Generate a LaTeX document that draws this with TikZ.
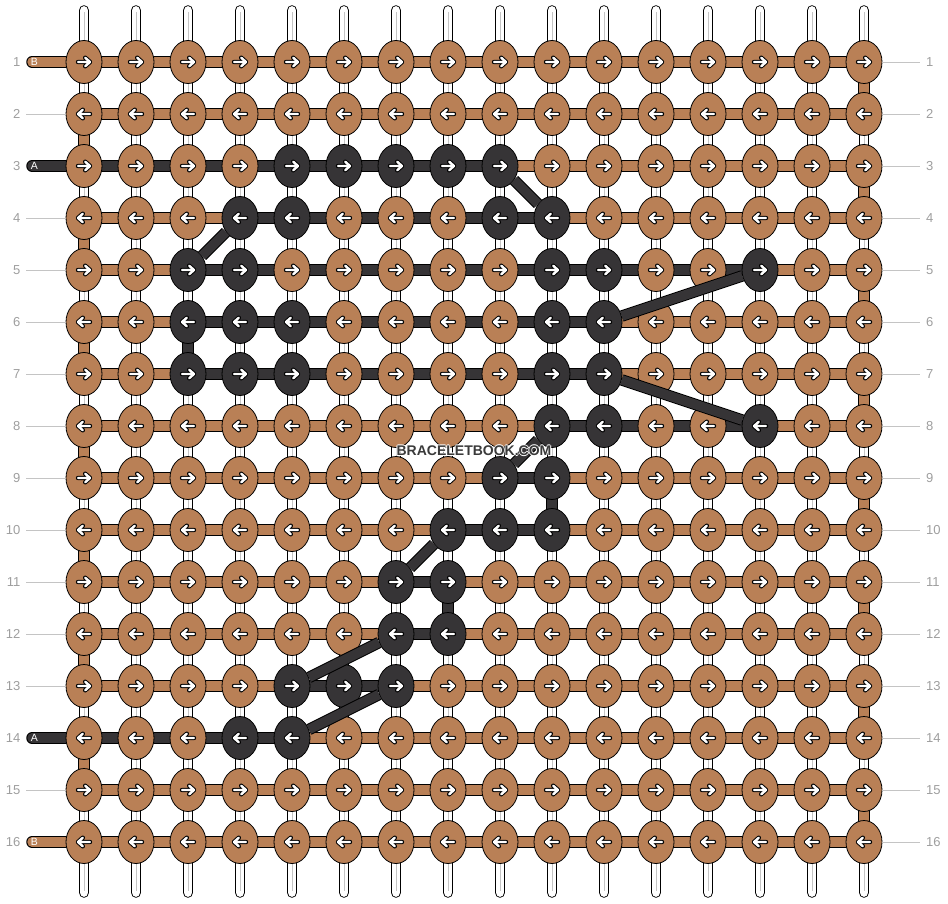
\documentclass[tikz,border=0pt]{standalone}
\usepackage{fontspec}
\setmainfont{Liberation Sans}
\usetikzlibrary{shapes.geometric}

\definecolor{brownB}{RGB}{185,128,86}
\definecolor{darkA}{RGB}{54,52,54}
\definecolor{rulegrey}{RGB}{196,196,196}
\definecolor{numgrey}{RGB}{158,158,158}
\definecolor{wmgrey}{RGB}{58,58,58}

\pgfdeclarelayer{back}
\pgfsetlayers{back,main}

\makeatletter
% \pick{list}{item}: \thr is darkA when item is in list, else brownB
\newcommand\pick[2]{\edef\tmp{\noexpand\in@{,#2,}{,#1,}}\tmp
  \ifin@\def\thr{darkA}\else\def\thr{brownB}\fi}
\makeatother

\newcommand\halotext[1]{{\color{white}\rlap{\kern-.9pt#1}\rlap{\kern.9pt#1}%
  \rlap{\raisebox{.9pt}{#1}}\rlap{\raisebox{-.9pt}{#1}}}#1}

\tikzset{
  knot/.style={ellipse, draw=black, line width=.8pt, fill=#1,
    minimum width=36pt, minimum height=43pt, inner sep=0pt},
  bar/.style={draw=black, line width=1pt, double=#1, double distance=9.5pt},
  block/.style={draw=black, line width=1pt, double=#1, double distance=9.3pt},
  tube/.style={draw=black, line width=.9pt, double=white, double distance=8.8pt, line cap=round},
  rownum/.style={text=numgrey, font=\fontsize{13}{13}\selectfont, inner ysep=0pt},
  gridline/.style={draw=rulegrey, line width=.8pt},
  endtag/.style={text=white, font=\fontsize{10.5}{10.5}\selectfont, inner sep=0pt},
  arr/.pic={
    \draw[black, line width=4.4pt, line cap=round, line join=round]
      (-6,0) -- (6,0) (1.2,-4.3) -- (6,0) -- (1.2,4.3);
    \draw[white, line width=2.4pt, line cap=round, line join=round]
      (-6,0) -- (6,0) (1.2,-4.3) -- (6,0) -- (1.2,4.3);
  },
}

\begin{document}
\begin{tikzpicture}[x=1pt, y=-1pt]
\useasboundingbox (0,0) rectangle (948,904);

% knots (lists give the dark columns of each row)
\foreach \r/\dl in {1/0, 2/0, 3/{5,6,7,8,9}, 4/{4,5,9,10}, 5/{3,4,10,11,14},
    6/{3,4,5,10,11}, 7/{3,4,5,10,11}, 8/{10,11,14}, 9/{9,10}, 10/{8,9,10},
    11/{7,8}, 12/{7,8}, 13/{5,6,7}, 14/{4,5}, 15/0, 16/0}
  \foreach \c in {1,...,16} {
    \pick{\dl}{\c}
    \node[knot=\thr] (k\r-\c) at ({32+52*\c}, {10+52*\r}) {};
    \ifodd\r \def\dir{1}\else \def\dir{-1}\fi
    \pic[xscale=\dir] at (k\r-\c) {arr};
  }

\begin{pgfonlayer}{back}
  % vertical strings
  \foreach \c in {1,...,16} {
    \coordinate (top\c) at ({32+52*\c}, 10.5);
    \coordinate (bot\c) at ({32+52*\c}, 892.5);
    \draw[tube] (top\c) -- (bot\c);
    \draw[rulegrey, line width=.6pt] ([yshift=-2pt]top\c) -- ([yshift=2pt]bot\c);
  }
  % row threads (lists give the dark gaps)
  \foreach \r/\dl in {1/0, 2/0, 3/{1,2,3,4,5,6,7,8}, 4/{4,5,6,7,8,9},
      5/{3,4,5,6,7,8,9,10,11,12,13}, 6/{3,4,5,6,7,8,9,10},
      7/{3,4,5,6,7,8,9,10}, 8/{10,11,12,13}, 9/9, 10/{8,9}, 11/7,
      12/7, 13/{5,6}, 14/{1,2,3,4}, 15/0, 16/0}
    \foreach \c in {1,...,15} {
      \pgfmathtruncatemacro\nx{\c+1}
      \pick{\dl}{\c}
      \draw[bar=\thr] (k\r-\c.center) -- (k\r-\nx.center);
    }
  % turns at the edges
  \foreach \r in {2,4,...,14} {
    \pgfmathtruncatemacro\nx{\r+1}
    \draw[block=brownB] (k\r-1.center) -- (k\nx-1.center);
  }
  \foreach \r in {1,3,...,15} {
    \pgfmathtruncatemacro\nx{\r+1}
    \draw[block=brownB] (k\r-16.center) -- (k\nx-16.center);
  }
  \draw[block=darkA] (k6-3.center) -- (k7-3.center);
  \draw[block=darkA] (k9-10.center) -- (k10-10.center);
  \draw[block=darkA] (k11-8.center) -- (k12-8.center);
  % loose thread ends
  \foreach \r/\thr in {1/brownB, 3/darkA, 14/darkA, 16/brownB} {
    \coordinate (end\r) at (32, {10+52*\r});
    \draw[bar=\thr, line cap=round] (end\r) -- (k\r-1.center);
  }
\end{pgfonlayer}

\foreach \r/\lab in {1/B, 3/A, 14/A, 16/B}
  \node[endtag] (tag\r) at (34.5, {10+52*\r}) {\lab};

% row numbers
\foreach \r in {1,...,16} {
  \node[rownum, anchor=east, inner xsep=5.5pt] (ln\r) at (26, {10+52*\r}) {\r};
  \node[rownum, anchor=west, inner xsep=6pt] (rn\r) at (920, {10+52*\r}) {\r};
  \draw[gridline] (k\r-16) -- (rn\r);
}
\foreach \r in {2,4,5,6,7,8,9,10,11,12,13,15}
  \draw[gridline] (ln\r) -- (k\r-1);

% diagonal crossings of the dark thread
\foreach \a/\b in {3-9/4-10, 4-4/5-3, 5-14/6-11, 7-11/8-14, 8-10/9-9,
    10-8/11-7, 12-7/13-5, 13-7/14-5}
  \draw[bar=darkA] (k\a) -- (k\b);

\node[text=wmgrey, font=\bfseries\fontsize{14}{14}\selectfont] (wm) at (474, 451)
  {\halotext{BRACELETBOOK.COM}};
\end{tikzpicture}
\end{document}
